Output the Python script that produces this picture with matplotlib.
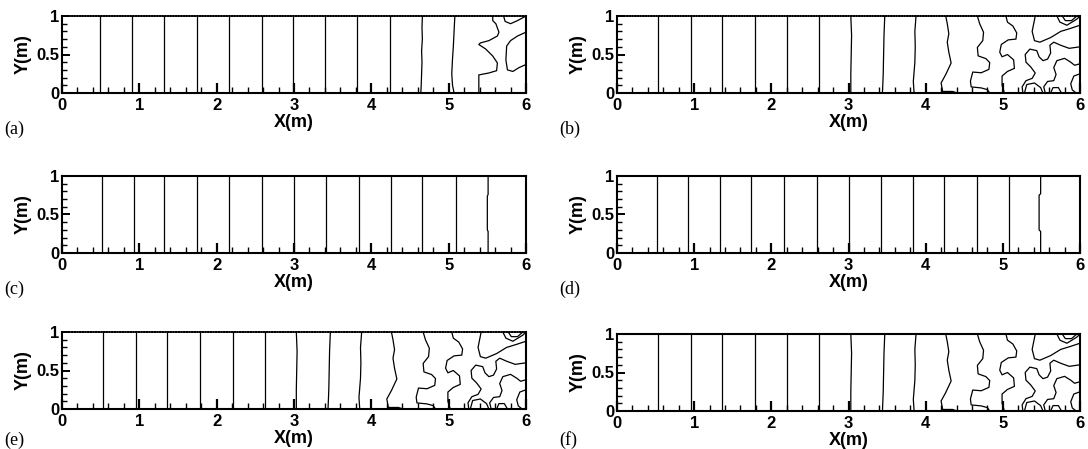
import matplotlib.pyplot as plt
from matplotlib.ticker import MultipleLocator

# isolines that run straight from bottom to top (x position in m)
a_straight = [0.49, 0.905, 1.32, 1.74, 2.16, 2.58, 2.99, 3.40, 3.82, 4.24]
b_straight = [0.534, 0.956, 1.364, 1.786, 2.208, 2.62]
c_straight = [0.514, 0.925, 1.32, 1.75, 2.16, 2.58, 3.0, 3.41, 3.84, 4.25, 4.66, 5.09]
d_straight = [0.514, 0.925, 1.33, 1.74, 2.17, 2.59, 3.0, 3.42, 3.83, 4.24, 4.67, 5.08]

# wavy isolines: (x values, y values)
a_curves = [
    ([4.64, 4.645, 4.65, 4.655, 4.65, 4.66, 4.655, 4.66], [0, 0.1, 0.25, 0.4, 0.55, 0.7, 0.85, 1.0]),
    ([5.07, 5.05, 5.04, 5.05, 5.06, 5.07, 5.08], [0, 0.1, 0.25, 0.45, 0.6, 0.8, 1.0]),
    ([5.39, 5.39, 5.52, 5.62, 5.63, 5.57, 5.48, 5.39, 5.41, 5.52, 5.63, 5.65, 5.61, 5.57, 5.57],
     [0, 0.235, 0.26, 0.29, 0.39, 0.48, 0.57, 0.63, 0.65, 0.68, 0.74, 0.79, 0.90, 0.94, 1.0]),
    ([5.71, 5.73, 5.80, 5.89, 6.0], [1.0, 0.93, 0.90, 0.94, 1.0]),
    ([6.0, 5.89, 5.80, 5.75, 5.74, 5.76, 5.83, 5.91, 6.0], [0.79, 0.74, 0.68, 0.61, 0.43, 0.30, 0.28, 0.33, 0.37]),
]

b_curves = [
    ([3.03, 3.03, 3.035, 3.04, 3.03], [0, 0.25, 0.5, 0.75, 1.0]),
    ([3.44, 3.45, 3.455, 3.46, 3.47], [0, 0.25, 0.5, 0.75, 1.0]),
    ([3.85, 3.84, 3.86, 3.865, 3.86, 3.875], [0, 0.15, 0.4, 0.6, 0.8, 1.0]),
    ([4.41, 4.35, 4.22, 4.20, 4.26, 4.33, 4.30, 4.28, 4.30, 4.28, 4.26],
     [0, 0.02, 0.02, 0.13, 0.24, 0.39, 0.53, 0.66, 0.77, 0.90, 1.0]),
    ([4.83, 4.80, 4.72, 4.59, 4.58, 4.61, 4.72, 4.82, 4.83, 4.78, 4.68, 4.67, 4.74, 4.75, 4.70, 4.67],
     [0, 0.044, 0.066, 0.079, 0.154, 0.272, 0.263, 0.307, 0.395, 0.447, 0.482, 0.592, 0.680, 0.789, 0.899, 1.0]),
    ([5.02, 4.99, 4.99, 5.06, 5.15, 5.14, 5.06, 4.99, 4.96, 4.98, 5.07, 5.17, 5.18, 5.13, 5.06, 5.04],
     [0, 0.10, 0.22, 0.28, 0.32, 0.43, 0.50, 0.47, 0.53, 0.63, 0.69, 0.70, 0.78, 0.87, 0.92, 1.0]),
    ([5.28, 5.31, 5.41, 5.49, 5.52], [0, 0.11, 0.13, 0.07, 0]),
    ([5.42, 5.40, 5.38, 5.41, 5.48, 5.62, 5.75, 5.88, 6.0], [1.0, 0.90, 0.80, 0.68, 0.66, 0.72, 0.80, 0.84, 0.88]),
    ([5.70, 5.74, 5.83, 5.96, 6.0], [1.0, 0.92, 0.88, 0.96, 1.0]),
    ([5.77, 5.81, 5.89, 5.96], [1.0, 0.94, 0.94, 1.0]),
    ([5.26, 5.25, 5.30, 5.38, 5.42, 5.36, 5.30, 5.29, 5.35, 5.44, 5.47, 5.52, 5.58, 5.62, 5.61, 5.66, 5.75, 5.86, 6.0],
     [0, 0.08, 0.16, 0.19, 0.26, 0.34, 0.40, 0.50, 0.57, 0.55, 0.47, 0.42, 0.44, 0.52, 0.62, 0.66, 0.62, 0.58, 0.60]),
    ([5.55, 5.53, 5.58, 5.66, 5.69, 5.66, 5.70, 5.80, 5.88, 5.93, 6.0],
     [0, 0.08, 0.15, 0.16, 0.24, 0.33, 0.42, 0.45, 0.40, 0.36, 0.38]),
    ([5.62, 5.65, 5.72, 5.76], [0, 0.07, 0.07, 0]),
    ([6.0, 5.92, 5.88, 5.90, 5.95], [0.25, 0.22, 0.12, 0.04, 0]),
]

c_curves = [
    ([5.51, 5.51, 5.50, 5.50, 5.51, 5.51], [0, 0.28, 0.30, 0.74, 0.76, 1.0]),
]
d_curves = [
    ([5.49, 5.49, 5.47, 5.47, 5.49, 5.49], [0, 0.28, 0.30, 0.75, 0.77, 1.0]),
]

# name, straight lines, curves, axes box in pixels (left, top, right, bottom), label y, dotted top edge
panels = [
    ("(a)", a_straight, a_curves, [62, 16, 526, 93], 129, True),
    ("(b)", b_straight, b_curves, [617, 16, 1080, 93], 129, True),
    ("(c)", c_straight, c_curves, [62, 176, 526, 253], 289, False),
    ("(d)", d_straight, d_curves, [617, 176, 1080, 253], 289, False),
    ("(e)", b_straight, b_curves, [62, 332, 526, 409], 440, True),
    ("(f)", b_straight, b_curves, [617, 334, 1080, 411], 440, False),
]

W, H = 1088, 449
fig = plt.figure(figsize=(W / 100, H / 100), dpi=100)
sans = "Liberation Sans"

for name, straight, curves, box, label_y, dotted_top in panels:
    x0, y0, x1, y1 = box
    ax = fig.add_axes([x0 / W, 1 - y1 / H, (x1 - x0) / W, (y1 - y0) / H])
    for xv in straight:
        ax.plot([xv, xv], [0, 1], color="black", lw=0.9)
    for xs, ys in curves:
        ax.plot(xs, ys, color="black", lw=0.9)
    ax.set_xlim(0, 6)
    ax.set_ylim(0, 1)
    ax.xaxis.set_major_locator(MultipleLocator(1))
    ax.xaxis.set_minor_locator(MultipleLocator(0.2))
    ax.yaxis.set_major_locator(MultipleLocator(0.5))
    ax.yaxis.set_minor_locator(MultipleLocator(0.1))
    ax.yaxis.set_major_formatter(plt.FuncFormatter(lambda v, p: "%g" % v))
    ax.tick_params(which="both", direction="in", top=False, right=False)
    ax.tick_params(axis="x", which="major", length=7, width=1.6, pad=3.5)
    ax.tick_params(axis="x", which="minor", length=4.3, width=1.0)
    ax.tick_params(axis="y", which="major", length=6, width=1.4, pad=2)
    ax.tick_params(axis="y", which="minor", length=3.5, width=1.0)
    for lab in ax.get_xticklabels() + ax.get_yticklabels():
        lab.set_fontfamily(sans)
        lab.set_fontweight("bold")
        lab.set_fontsize(12)
    for sp in ax.spines.values():
        sp.set_linewidth(1.5)
    if dotted_top:
        ax.spines["top"].set_linestyle((0, (1, 0.6)))
        ax.spines["top"].set_linewidth(1.2)
    ax.set_xlabel("X(m)", fontfamily=sans, fontweight="bold", fontsize=13, labelpad=0.5)
    ax.set_ylabel("Y(m)", fontfamily=sans, fontweight="bold", fontsize=13, labelpad=3)
    fig.text((x0 - 58) / W, 1 - label_y / H, name, family="Liberation Serif",
             fontsize=13, va="center", ha="left")

fig.savefig("out.png", dpi=100)
